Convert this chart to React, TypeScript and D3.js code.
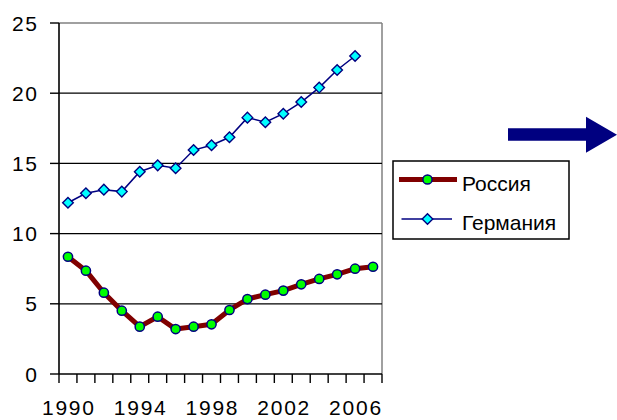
import React from "react";
import * as d3 from "d3";

const years = [1990, 1991, 1992, 1993, 1994, 1995, 1996, 1997, 1998, 1999, 2000, 2001, 2002, 2003, 2004, 2005, 2006, 2007];
const russia = [8.35, 7.36, 5.79, 4.51, 3.37, 4.08, 3.2, 3.37, 3.54, 4.56, 5.34, 5.65, 5.94, 6.39, 6.77, 7.1, 7.5, 7.64];
const germany = [12.2, 12.87, 13.13, 12.99, 14.41, 14.86, 14.65, 15.95, 16.29, 16.86, 18.26, 17.93, 18.54, 19.37, 20.4, 21.65, 22.65];
const yTicks = [0, 5, 10, 15, 20, 25];
const xLabels = [1990, 1994, 1998, 2002, 2006];
const seriesNames = ["Россия", "Германия"];

const W = 617;
const H = 420;
const L = 59, R = 382, T = 23, B = 374;
const FONT = "'Liberation Sans', Arial, sans-serif";
const NAVY = "#000080";
const MAROON = "#800000";

export default function App() {
  const x = d3.scaleBand<number>().domain(years).range([L, R]).padding(0);
  const bw = x.bandwidth();
  const cx = (yr: number) => (x(yr) as number) + bw / 2;
  const y = d3.scaleLinear().domain([0, 25]).range([B, T]);

  const line = d3.line<[number, number]>().x(d => d[0]).y(d => d[1]);
  const rPts: [number, number][] = russia.map((v, i) => [cx(years[i]), y(v)]);
  const gPts: [number, number][] = germany.map((v, i) => [cx(years[i]), y(v)]);

  const diamond = (px: number, py: number, s: number) =>
    `M${px},${py - s}L${px + s},${py}L${px},${py + s}L${px - s},${py}Z`;

  const boundaries = d3.range(years.length + 1).map(i => L + i * bw);

  return (
    <svg width={W} height={H} style={{ position: "absolute", left: 0, top: 0, background: "#fff" }}>
      <rect x={0} y={0} width={W} height={H} fill="#fff" />
      {/* plot area border */}
      <line x1={L} x2={R} y1={y(25)} y2={y(25)} stroke="#808080" strokeWidth={1.5} />
      <line x1={R} x2={R} y1={T} y2={B} stroke="#808080" strokeWidth={1.5} />
      {/* gridlines */}
      {yTicks.filter(t => t > 0 && t < 25).map(t => (
        <line key={t} x1={L} x2={R} y1={y(t)} y2={y(t)} stroke="#000" strokeWidth={1.2} />
      ))}
      {/* y axis */}
      <line x1={L} x2={L} y1={T} y2={B} stroke="#000" strokeWidth={1.6} />
      {yTicks.map(t => (
        <g key={t}>
          <line x1={L - 9} x2={L} y1={y(t)} y2={y(t)} stroke="#000" strokeWidth={1.4} />
          <text x={37} y={y(t)} dy="0.36em" textAnchor="end" fontFamily={FONT} fontSize={21}
            textLength={String(t).length > 1 ? 25 : undefined} lengthAdjust="spacing">
            {t}
          </text>
        </g>
      ))}
      {/* x axis */}
      <line x1={L} x2={R} y1={B} y2={B} stroke="#000" strokeWidth={1.6} />
      {boundaries.map((bx, i) => (
        <line key={i} x1={bx} x2={bx} y1={B} y2={B + 9} stroke="#000" strokeWidth={1.4} />
      ))}
      {xLabels.map(yr => (
        <text key={yr} x={cx(yr)} y={415} textAnchor="middle" fontFamily={FONT} fontSize={21}
          textLength={52} lengthAdjust="spacing">
          {yr}
        </text>
      ))}
      {/* Russia */}
      <path d={line(rPts) || ""} fill="none" stroke={MAROON} strokeWidth={5} strokeLinejoin="round" />
      {rPts.map((p, i) => (
        <circle key={i} cx={p[0]} cy={p[1]} r={4.6} fill="#00ff00" stroke={NAVY} strokeWidth={1.5} />
      ))}
      {/* Germany */}
      <path d={line(gPts) || ""} fill="none" stroke={NAVY} strokeWidth={1.5} />
      {gPts.map((p, i) => (
        <path key={i} d={diamond(p[0], p[1], 5.3)} fill="#00ffff" stroke={NAVY} strokeWidth={1.4} />
      ))}
      {/* legend */}
      <rect x={393} y={161} width={176} height={78} fill="#fff" stroke="#000" strokeWidth={1.5} />
      <line x1={399} x2={457} y1={179.5} y2={179.5} stroke={MAROON} strokeWidth={5} />
      <circle cx={427.5} cy={179.5} r={4.6} fill="#00ff00" stroke={NAVY} strokeWidth={1.5} />
      <text x={462} y={191} fontFamily={FONT} fontSize={21}>{seriesNames[0]}</text>
      <line x1={401.5} x2={452} y1={219} y2={219} stroke={NAVY} strokeWidth={1.5} />
      <path d={diamond(427.5, 219, 5.3)} fill="#00ffff" stroke={NAVY} strokeWidth={1.4} />
      <text x={462} y={230} fontFamily={FONT} fontSize={21}>{seriesNames[1]}</text>
      {/* arrow */}
      <polygon
        points="508,128.3 586,128.3 586,116.7 617,134.7 586,152.7 586,140.7 508,140.7"
        fill={NAVY}
      />
    </svg>
  );
}
